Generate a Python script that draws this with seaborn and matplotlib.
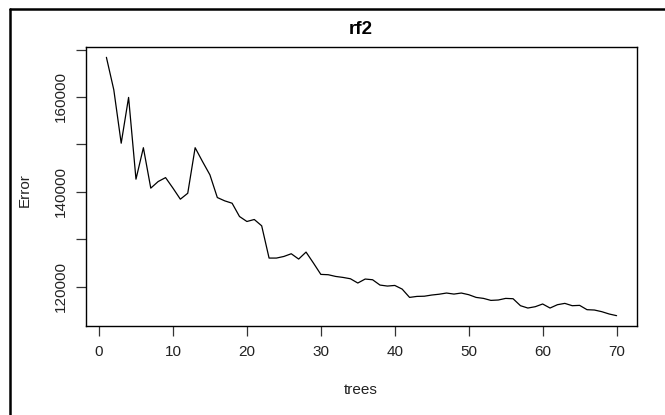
import matplotlib
matplotlib.use("Agg")
import matplotlib.pyplot as plt
import seaborn as sns
import pandas as pd
from matplotlib.lines import Line2D

trees = list(range(1, 71))
error = [168350, 161500, 150250, 159900, 142670, 149300, 140780, 142170, 143000, 140780,
         138450, 139700, 149300, 146380, 143580, 138800, 138100, 137600, 134800, 133750,
         134170, 132840, 126040, 126040, 126380, 126950, 125830, 127300, 124990, 122600,
         122530, 122170, 121960, 121680, 120780, 121620, 121470, 120350, 120140, 120270,
         119500, 117750, 117960, 118000, 118250, 118420, 118670, 118450, 118670, 118320,
         117750, 117540, 117120, 117200, 117540, 117470, 116000, 115510, 115790, 116360,
         115510, 116210, 116490, 116000, 116070, 115160, 115090, 114740, 114250, 113900]
x_ticks = [0, 10, 20, 30, 40, 50, 60, 70]
y_ticks = [120000, 130000, 140000, 150000, 160000, 170000]
y_labels = ["120000", "", "140000", "", "160000", ""]

sns.set_style("white")
plt.rcParams['font.family'] = ['Liberation Sans', 'DejaVu Sans']

df = pd.DataFrame({"trees": trees, "Error": error})

fig = plt.figure(figsize=(6.65, 4.15), dpi=100)
ax = fig.add_axes([86/665, 1 - 326/415, (637-86)/665, (326-47)/415])
sns.lineplot(data=df, x="trees", y="Error", ax=ax, color="black", linewidth=0.9)

xr = max(trees) - min(trees)
yr = max(error) - min(error)
ax.set_xlim(min(trees) - 0.04*xr, max(trees) + 0.04*xr)
ax.set_ylim(min(error) - 0.04*yr, max(error) + 0.04*yr)

ax.set_xticks(x_ticks)
ax.set_xticklabels([str(t) for t in x_ticks])
ax.set_yticks(y_ticks)
ax.set_yticklabels(y_labels, rotation=90, va="center")
ax.tick_params(axis="both", direction="out", length=7, width=0.9, color="#333333",
               labelsize=11, labelcolor="#222222", bottom=True, left=True)
ax.tick_params(axis="x", pad=7)
ax.tick_params(axis="y", pad=6)
for s in ax.spines.values():
    s.set_visible(True)
    s.set_color("black")
    s.set_linewidth(1.0)

ax.set_xlabel("")
ax.set_ylabel("")
fig.text(361/665, 1 - 390/415, "trees", ha="center", va="center", fontsize=11, color="#222222")
fig.text(25/665, 1 - 190/415, "Error", ha="center", va="center", rotation=90, fontsize=11, color="#222222")
fig.text(361/665, 1 - 30/415, "rf2", ha="center", va="center", fontsize=13.5, fontweight="bold", color="black")

# outer screenshot frame (left and top edges)
fig.add_artist(Line2D([10/665, 10/665], [0, 1 - 9/415], transform=fig.transFigure, color="black", linewidth=1.8))
fig.add_artist(Line2D([10/665, 1], [1 - 9/415, 1 - 9/415], transform=fig.transFigure, color="black", linewidth=1.8))

fig.savefig("out.png", dpi=100)
